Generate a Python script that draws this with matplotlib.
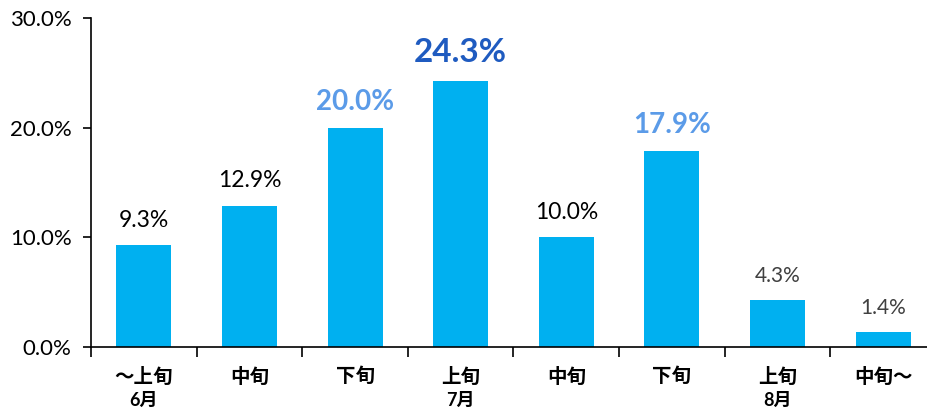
import matplotlib
matplotlib.use('Agg')
import matplotlib.pyplot as plt
import matplotlib.transforms as mtransforms

plt.rcParams['font.family'] = ['Lato', 'Noto Sans CJK JP', 'DejaVu Sans']

categories = ['～上旬', '中旬', '下旬', '上旬', '中旬', '下旬', '上旬', '中旬～']
months = ['6月', '7月', '8月']
month_pos = [0, 3, 6]
values = [9.3, 12.9, 20.0, 24.3, 10.0, 17.9, 4.3, 1.4]
label_colors = ['#000000', '#000000', '#5B9BE8', '#1F5BC0', '#000000', '#5B9BE8', '#404040', '#404040']
label_sizes = [16.5, 16.5, 20, 24, 16.5, 20, 15, 15]
label_bold = [False, False, True, True, False, True, False, False]


def main():
    fig = plt.figure(figsize=(9.28, 4.09), dpi=100)
    ax = fig.add_axes([91 / 928, 62 / 409, 845 / 928, 329 / 409])

    x = range(len(values))
    ax.bar(x, values, width=0.52, color='#00B0F0', zorder=2)

    for i, v in enumerate(values):
        ax.annotate('%.1f%%' % v, (i, v), xytext=(0, 13), textcoords='offset points',
                    ha='center', va='baseline', color=label_colors[i], fontsize=label_sizes[i],
                    fontweight='bold' if label_bold[i] else 'normal')

    ax.set_xlim(-0.5, len(values) - 0.5)
    ax.set_ylim(0, 30)
    ax.set_yticks([0, 10, 20, 30])
    ax.set_yticklabels(['0.0%', '10.0%', '20.0%', '30.0%'], fontsize=16)
    ax.tick_params(axis='y', direction='out', length=6, width=1.2, pad=8)

    ax.set_xticks([i - 0.5 for i in range(len(values) + 1)])
    ax.set_xticklabels([])
    ax.tick_params(axis='x', which='major', direction='out', length=7, width=1.2)
    ax.set_xticks(list(x), minor=True)
    ax.set_xticklabels(categories, minor=True, fontsize=14, fontweight='bold')
    ax.tick_params(axis='x', which='minor', length=0, pad=14)

    trans = mtransforms.blended_transform_factory(ax.transData, ax.transAxes)
    for m, p in zip(months, month_pos):
        ax.text(p, -0.138, m, transform=trans, ha='center', va='top', fontsize=13, fontweight='bold')

    for s in ['top', 'right']:
        ax.spines[s].set_visible(False)
    ax.spines['left'].set_linewidth(1.2)
    ax.spines['bottom'].set_linewidth(1.2)

    fig.savefig('out.png', dpi=100)


if __name__ == '__main__':
    main()
